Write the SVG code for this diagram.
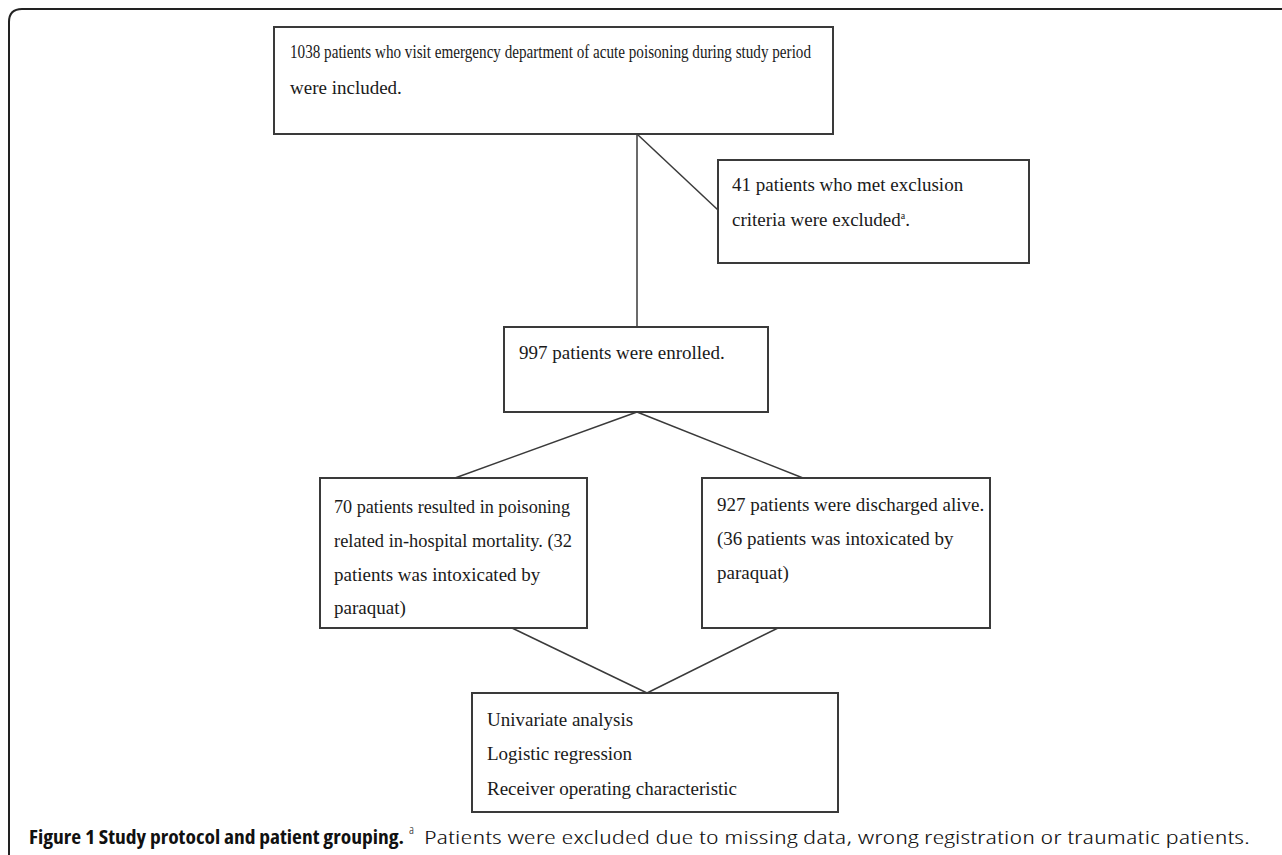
<svg xmlns="http://www.w3.org/2000/svg" width="1282" height="855" viewBox="0 0 1282 855">
<style>
.box{fill:#fff;stroke:#3a3a3a;stroke-width:2}
.t{font-family:"Liberation Serif","Times New Roman",serif;font-size:19px;fill:#1a1a1a}
.ln{stroke:#3a3a3a;stroke-width:1.5;fill:none}
.cap{font-family:"Open Sans","Liberation Sans",sans-serif;font-size:19px;fill:#111}
</style>
<rect width="1282" height="855" fill="#fff"/>
<path d="M9,855 V22 Q9,9 22,9 H1282" fill="none" stroke="#222" stroke-width="2"/>
<g id="connectors">
<line class="ln" x1="637" y1="134" x2="637" y2="327"/>
<line class="ln" x1="637" y1="134" x2="718" y2="210"/>
<line class="ln" x1="637" y1="412" x2="455" y2="478"/>
<line class="ln" x1="637" y1="412" x2="803" y2="478"/>
<line class="ln" x1="512" y1="628" x2="647" y2="693"/>
<line class="ln" x1="778" y1="628" x2="647" y2="693"/>
</g>
<g id="n1">
<rect class="box" x="274" y="27" width="559" height="107"/>
<text class="t" x="290" y="58" font-size="17.5" textLength="521" lengthAdjust="spacingAndGlyphs">1038 patients who visit emergency department of acute poisoning during study period</text>
<text class="t" x="290" y="94">were included.</text>
</g>
<g id="n2">
<rect class="box" x="718" y="160" width="311" height="103"/>
<text class="t" x="732" y="191">41 patients who met exclusion</text>
<text class="t" x="732" y="226">criteria were excluded<tspan font-size="10" dy="-7">a</tspan><tspan dy="7">.</tspan></text>
</g>
<g id="n3">
<rect class="box" x="504" y="327" width="264" height="85"/>
<text class="t" x="519" y="359">997 patients were enrolled.</text>
</g>
<g id="n4">
<rect class="box" x="320" y="478" width="267" height="150"/>
<text class="t" x="334" y="513" textLength="236" lengthAdjust="spacingAndGlyphs">70 patients resulted in poisoning</text>
<text class="t" x="334" y="547" textLength="238" lengthAdjust="spacingAndGlyphs">related in-hospital mortality. (32</text>
<text class="t" x="334" y="581">patients was intoxicated by</text>
<text class="t" x="334" y="614">paraquat)</text>
</g>
<g id="n5">
<rect class="box" x="702" y="478" width="288" height="150"/>
<text class="t" x="717" y="511">927 patients were discharged alive.</text>
<text class="t" x="717" y="545">(36 patients was intoxicated by</text>
<text class="t" x="717" y="579">paraquat)</text>
</g>
<g id="n6">
<rect class="box" x="472" y="693" width="366" height="119"/>
<text class="t" x="487" y="726">Univariate analysis</text>
<text class="t" x="487" y="760">Logistic regression</text>
<text class="t" x="487" y="795">Receiver operating characteristic</text>
</g>
<g id="caption">
<text class="cap" y="844" font-stretch="condensed"><tspan x="29" font-weight="bold" textLength="375" lengthAdjust="spacingAndGlyphs">Figure 1 Study protocol and patient grouping.</tspan><tspan x="409" dy="-10" font-size="13" font-weight="300">a</tspan><tspan x="424" dy="10" font-weight="300" textLength="826" lengthAdjust="spacingAndGlyphs">Patients were excluded due to missing data, wrong registration or traumatic patients.</tspan></text>
</g>
</svg>
